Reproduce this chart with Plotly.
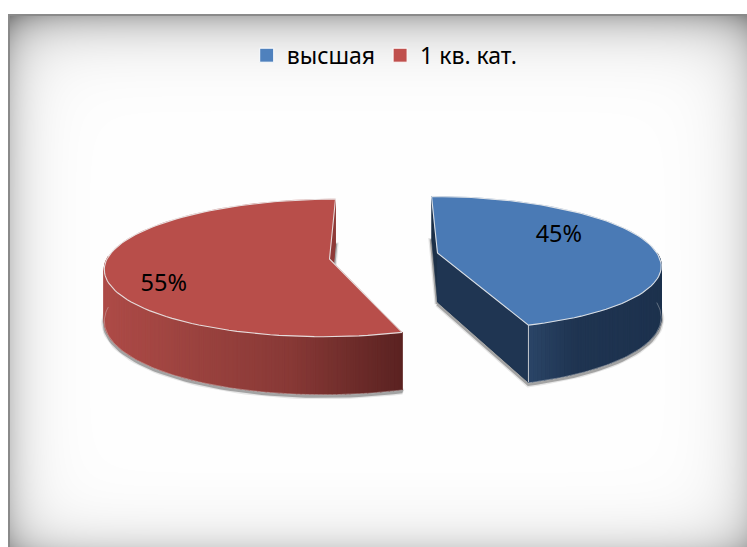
import numpy as np
import plotly.graph_objects as go

# --- chart data ---
categories = ["высшая", "1 кв. кат."]
values = [45, 55]
value_labels = ["45%", "55%"]
legend_colors = ["#4F81BD", "#C0504D"]
top_colors = ["#4A7AB5", "#B84E4A"]

W, H = 747, 547
FL, FT = 8, 14

# --- slice geometry (pixel projection of the 3-D pie) ---
geom = [
    dict(cx=437.5, cy=253, a=219.3, b=65, k=0.15, shear_back=0.105, shear_front=0.165, depth=49, wall=(90, 162),
         side="#1F3552", thin="#1C3048", label=(65, 0.645), edge_line=True,
         wall_stops=[(0, "#2B4567"), (0.12, "#263F5F"), (0.35, "#1F3451"), (1, "#1D324E")]),
    dict(cx=329.5, cy=259, a=222.5, b=67.6, k=0.13, shear_back=-0.1, shear_front=-0.08, depth=50, wall=(162, 272),
         side="#8E3A37", thin="#7E3330", label=(242.5, 0.79), edge_line=False,
         wall_stops=[(0, "#AD4B47"), (0.62, "#883936"), (1, "#5A2221")]),
]

# start / end angle of each slice, from the values
total = sum(values)
edges = np.cumsum([0] + values) / total * 360
spans = list(zip(edges[:-1], edges[1:]))


def project(g, theta, r=1.0):
    t = np.radians(theta)
    u, v = r * np.sin(t), -r * np.cos(t)
    w = 1 / (1 - g["k"] * v)
    s = np.where(v < 0, g["shear_back"], g["shear_front"])
    return g["cx"] + g["a"] * u * w + s * g["b"] * v * w, g["cy"] + g["b"] * v * w, w


def mix(stops, f):
    f = min(max(f, 0), 1)
    for (f0, c0), (f1, c1) in zip(stops[:-1], stops[1:]):
        if f <= f1:
            s = (f - f0) / (f1 - f0)
            a = [int(c0[i:i + 2], 16) for i in (1, 3, 5)]
            b = [int(c1[i:i + 2], 16) for i in (1, 3, 5)]
            return "rgb(%d,%d,%d)" % tuple(round(p + (q - p) * s) for p, q in zip(a, b))
    return stops[-1][1]


def poly(fig, xs, ys, fill, lw=0.6, op=1.0, line=None):
    fig.add_trace(go.Scatter(
        x=list(xs) + [xs[0]], y=list(ys) + [ys[0]], mode="lines", fill="toself", fillcolor=fill,
        line=dict(color=line or fill, width=lw), opacity=op, showlegend=False, hoverinfo="skip"))


def stroke(fig, xs, ys, color, width):
    fig.add_trace(go.Scatter(x=xs, y=ys, mode="lines", line=dict(color=color, width=width),
                             showlegend=False, hoverinfo="skip"))


fig = go.Figure()

# --- chart-area background: white centre, grey vignette at the edges ---
yy, xx = np.mgrid[0:H, 0:W]
dark = (82 * np.exp(-(yy - FT) / 22) + 58 * np.exp(-(xx - FL) / 20)
        + 42 * np.exp(-(H - yy) / 20) + 42 * np.exp(-(W - xx) / 22))
shade = np.clip(255 - dark, 0, 255)
shade[(yy < FT) | (xx < FL)] = 255
shade[((yy >= FT) & (yy < FT + 2) & (xx >= FL)) | ((xx >= FL) & (xx < FL + 2) & (yy >= FT))] = 138
fig.add_trace(go.Image(z=np.dstack([shade, shade, shade]).astype(np.uint8), x0=0.5, y0=0.5, dx=1, dy=1,
                       hoverinfo="skip"))

for g, (t0, t1), tc in zip(geom, spans, top_colors):
    th = np.arange(t0, t1 + 0.01, 2.0)
    if th[-1] < t1:
        th = np.append(th, t1)
    ax, ay = g["cx"], g["cy"]
    rx, ry, rw = project(g, th)
    ad = g["depth"]
    d = g["depth"] * rw
    # soft shadow under the whole slice
    sx = [ax] + list(rx)
    sy = [ay + ad + 2] + list(ry + d + 2)
    poly(fig, sx, sy, "#888888", lw=6, op=0.2)
    poly(fig, sx, sy, "#6E6E6E", lw=3.5, op=0.55)
    # faces along the two cuts
    poly(fig, [rx[0], rx[0], ax, ax], [ry[0], ry[0] + d[0], ay + ad, ay], g["thin"])
    poly(fig, [rx[-1], rx[-1], ax, ax], [ry[-1], ry[-1] + d[-1], ay + ad, ay], g["thin"])
    poly(fig, [ax, rx[-1], rx[-1], ax], [ay, ry[-1], ry[-1] + d[-1], ay + ad], g["side"])
    # outer wall, shaded left to right
    wt = np.arange(g["wall"][0], g["wall"][1] + 0.01, 1.0)
    wx, wy, ww = project(g, wt)
    wd = g["depth"] * ww
    lo, hi = wx.min(), wx.max()
    for i in range(len(wt) - 1):
        f = ((wx[i] + wx[i + 1]) / 2 - lo) / (hi - lo)
        c = mix(g["wall_stops"], f)
        poly(fig, [wx[i], wx[i + 1], wx[i + 1], wx[i]],
             [wy[i], wy[i + 1], wy[i + 1] + wd[i + 1], wy[i] + wd[i]], c, lw=1.3)
    # pale rim lines
    stroke(fig, list(wx), list(wy + wd + 0.6), "rgba(225,225,225,0.6)", 0.6)
    if g["edge_line"]:
        e = int(np.argmax(wt))
        stroke(fig, [wx[e], wx[e]], [wy[e], wy[e] + wd[e]], "rgba(225,225,225,0.85)", 1.0)
    # top surface
    poly(fig, [ax] + list(rx), [ay] + list(ry), tc)
    stroke(fig, list(rx) + [ax, rx[0]], list(ry) + [ay, ry[0]], "rgba(235,235,235,0.9)", 1.1)

# --- value labels ---
for g, lab in zip(geom, value_labels):
    lx, ly, _ = project(g, g["label"][0], g["label"][1])
    fig.add_trace(go.Scatter(x=[lx], y=[ly], mode="text", text=[lab], textposition="middle center",
                             textfont=dict(family="Noto Sans", size=23.5, color="#000000"),
                             showlegend=False, hoverinfo="skip"))

# --- legend entries ---
for name, c in zip(categories, legend_colors):
    fig.add_trace(go.Scatter(x=[None], y=[None], mode="markers", name=name,
                             marker=dict(symbol="square", size=14, color=c,
                                         line=dict(color="#FFFFFF", width=1))))

fig.update_layout(
    width=W, height=H, margin=dict(l=0, r=0, t=0, b=0), paper_bgcolor="#FFFFFF", plot_bgcolor="#FFFFFF",
    xaxis=dict(range=[0, W], visible=False, fixedrange=True, constrain="domain"),
    yaxis=dict(range=[H, 0], visible=False, fixedrange=True, constrain="domain"),
    legend=dict(orientation="h", x=0.515, xanchor="center", y=0.899, yanchor="middle",
                bgcolor="rgba(0,0,0,0)", font=dict(family="Noto Sans", size=23, color="#000000"),
                itemwidth=30, tracegroupgap=0),
    font=dict(family="Noto Sans"),
)
fig.write_html("out.html", config={"displayModeBar": False},
               post_script="document.body.style.margin='0';document.body.style.overflow='hidden';")
